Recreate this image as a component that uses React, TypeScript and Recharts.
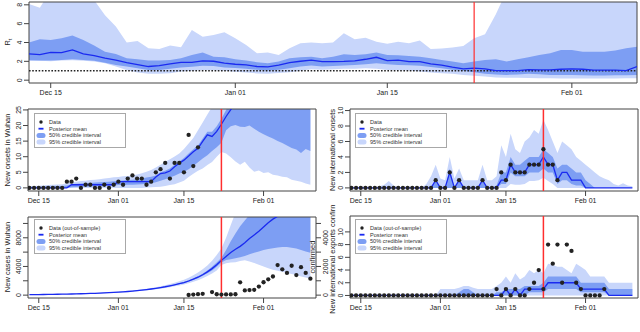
import React from "react"
import {
    ComposedChart,
    Area,
    Line,
    Scatter,
    XAxis,
    YAxis,
    ReferenceLine,
    ReferenceArea,
    Legend,
} from "recharts"

const FONT = '"Liberation Sans", Arial, Helvetica, sans-serif'
const LIGHT = "#c8d6fb"
const DARK = "#7d9ef3"
const MEAN = "#1a2af0"
const RED = "#ff2e2e"
const INK = "#222222"
const FRAME = "#444444"

// day index, 0 = Dec 15
const days = [
    -2, -1, 0, 1, 2, 3, 4, 5, 6, 7, 8, 9, 10, 11, 12, 13, 14, 15, 16, 17, 18, 19, 20,
    21, 22, 23, 24, 25, 26, 27, 28, 29, 30, 31, 32, 33, 34, 35, 36, 37, 38, 39, 40,
    41, 42, 43, 44, 45, 46, 47, 48, 49, 50, 51, 52, 53, 54, 55, 56, 57, 58,
]
const dateTicks = [0, 17, 31, 48]
const dateLabels = ["Dec 15", "Jan 01", "Jan 15", "Feb 01"]
const travelBanDay = 39

const legendData = ["Data", "Posterior mean", "50% credible interval", "95% credible interval"]
const legendOos = ["Data (out-of-sample)", "Posterior mean", "50% credible interval", "95% credible interval"]

// R_t (Dec 13 .. Feb 07)
const rtMean = [
    2.79, 2.72, 2.96, 2.93, 3.21, 2.79, 2.61, 2.33, 2.12, 1.87, 1.66, 1.45, 1.55, 1.73, 1.9,
    1.9, 2.05, 2.01, 1.8, 1.69, 1.62, 1.45, 1.41, 1.59, 1.87, 2.01, 2.12, 1.98, 1.98, 2.0,
    2.05, 2.22, 2.43, 2.08, 2.12, 1.98, 1.98, 1.73, 1.59, 1.38, 1.2, 1.27, 1.2, 1.02, 1.02,
    1.02, 1.13, 1.09, 1.09, 1.16, 1.2, 1.16, 1.06, 1.06, 1.06, 1.02, 1.45,
]
const rt50Hi = [
    3.99, 4.34, 4.27, 4.44, 4.73, 4.27, 3.67, 3.03, 2.79, 2.33, 2.22, 2.08, 2.08, 2.15, 2.33,
    2.68, 2.93, 2.5, 2.43, 2.22, 2.08, 1.9, 1.8, 1.98, 2.33, 2.43, 2.5, 2.33, 2.5, 2.75,
    2.68, 2.75, 2.93, 2.68, 2.65, 2.57, 2.5, 2.33, 2.15, 1.98, 1.8, 1.98, 2.15, 2.22, 1.98,
    2.22, 2.43, 2.68, 2.86, 3.21, 3.21, 3.03, 3.03, 3.03, 3.14, 3.39, 3.56,
]
const rt50Lo = [
    2.12, 2.1, 2.08, 2.15, 2.22, 2.15, 2.05, 1.85, 1.62, 1.45, 1.27, 1.09, 1.09, 1.2, 1.34,
    1.43, 1.52, 1.5, 1.34, 1.3, 1.2, 1.1, 1.02, 1.1, 1.27, 1.45, 1.55, 1.45, 1.5, 1.55,
    1.62, 1.7, 1.8, 1.7, 1.62, 1.58, 1.52, 1.4, 1.27, 1.12, 0.99, 0.85, 0.67, 0.6, 0.56,
    0.6, 0.67, 0.62, 0.56, 0.56, 0.56, 0.52, 0.49, 0.5, 0.52, 0.53, 0.56,
]
const rt95Lo = [
    2.05, 2.05, 2.02, 2.08, 2.12, 2.05, 1.98, 1.8, 1.45, 1.09, 0.81, 0.67, 0.67, 0.74, 0.92,
    1.0, 1.09, 1.05, 0.99, 0.9, 0.81, 0.72, 0.67, 0.75, 0.85, 1.0, 1.16, 1.1, 1.15, 1.2,
    1.22, 1.27, 1.2, 1.09, 1.05, 1.02, 0.92, 0.81, 0.74, 0.67, 0.55, 0.46, 0.38, 0.28, 0.26,
    0.25, 0.23, 0.21, 0.2, 0.18, 0.18, 0.18, 0.18, 0.18, 0.19, 0.21, 0.21,
]
const rt95Hi = [
    8.08, 7.7, 9.5, 9.5, 10.0, 9.5, 8.5, 6.9, 5.7, 4.0, 4.16, 3.39, 3.32, 3.67, 3.49,
    5.33, 4.62, 4.8, 5.08, 4.44, 3.74, 2.86, 2.93, 2.68, 3.39, 3.92, 3.99, 3.92, 3.99, 4.97,
    4.34, 4.51, 4.09, 3.88, 4.09, 3.92, 4.2, 3.32, 3.35, 3.46, 3.63, 4.44, 4.87, 7.0, 9.5,
    10, 10, 10, 10, 10, 10, 10, 10, 10, 10, 10, 10,
]

// new onsets in Wuhan
const wuhanOnsets = [
    0, 0, 0, 0, 0, 0, 0, 0, 2, 2, 3, 0, 1, 1, 0, 0, 1, 0, 1, 2, 1, 3, 4, 3, 3, 1, 2, 5, 6, 8,
    3, 8, 8, 5, 17, 7, 13,
]
const wuhanMean = [
    0, 0, 0, 0, 0, 0, 0, 0, 0, 1, 1, 1, 1, 1, 1, 1, 1, 1, 1, 2, 2, 2, 2, 2, 2, 2, 2,
    3.5, 4.6, 4.8, 5.4, 6.8, 7.9, 8.9, 10.2, 11.6, 12.7, 14.9, 17.0, 16.5, 18.1, 20.4, 22.9,
    25.1, 27, 29, 31, 33, 35, 37, 39, 40, 41, 42, 43, 43, 44, 44, 45, 45, 46,
]
const wuhan95Hi = [
    0.6, 0.6, 0.7, 0.8, 0.9, 1.0, 1.1, 1.2, 1.5, 1.8, 2.0, 2.2, 2.3, 2.5, 2.6, 2.8, 3.0, 3.2,
    3.4, 3.5, 3.7, 3.8, 4.0, 4.3, 4.7, 5.2, 5.7, 6.5, 7.4, 8.4, 9.2, 10.1, 11.0, 12.5, 14.2,
    16.0, 18.5, 21.0, 23.5, 26, 30, 30, 30, 30, 30, 30, 30, 30, 30, 30, 30, 30, 30, 30, 30,
    30, 30, 30, 30, 30, 30,
]
const wuhan95Lo = [
    0, 0, 0, 0, 0, 0, 0, 0, 0, 0, 0, 0, 0, 0, 0, 0, 0, 0, 0, 0, 0, 0, 0, 0, 0,
    0.1, 0.2, 0.3, 0.4, 0.6, 0.9, 1.2, 1.7, 2.3, 3.5, 4.5, 5.5, 6.2, 7.3, 8.3, 10.0, 11.5,
    11.0, 9.8, 8.5, 7.4, 8.4, 6.5, 5.2, 5.6, 4.8, 5.0, 4.2, 4.0, 3.6, 3.4, 2.6, 2.3, 2.0,
    1.4, 1.0,
]
const wuhan50Hi = [
    0.3, 0.3, 0.35, 0.4, 0.45, 0.5, 0.55, 0.6, 0.8, 1.2, 1.3, 1.4, 1.5, 1.6, 1.7, 1.8, 1.9,
    2.0, 2.1, 2.3, 2.4, 2.5, 2.6, 2.8, 3.0, 3.3, 3.6, 4.0, 5.0, 5.5, 6.2, 7.4, 8.5, 9.6,
    11.0, 12.4, 13.6, 15.8, 18.0, 18.0, 19.8, 22.2, 25.0, 27.5, 30, 30, 30, 30, 30, 30, 30,
    30, 30, 30, 30, 30, 30, 30, 30, 30, 30,
]
const wuhan50Lo = [
    0, 0, 0, 0, 0, 0, 0, 0, 0, 0.2, 0.3, 0.35, 0.4, 0.45, 0.5, 0.55, 0.6, 0.7, 0.8, 0.9,
    0.95, 1.0, 1.0, 1.1, 1.2, 1.3, 1.4, 1.8, 2.3, 2.8, 3.3, 3.9, 4.6, 5.2, 6.0, 7.0, 8.2,
    9.4, 10.5, 11.8, 13.0, 14.5, 18.5, 19.8, 20.2, 19.6, 19.5, 20.0, 19.0, 18.0, 17.2, 16.5,
    15.8, 15.0, 14.4, 13.6, 12.8, 12.3, 11.2, 12.5, 11.8,
]

// new international onsets
const intlOnsets = [
    0, 0, 0, 0, 0, 0, 0, 0, 0, 0, 0, 0, 0, 0, 0, 0, 0, 0, 1, 0, 0, 2, 0, 1, 0, 0, 0, 0, 1,
    0, 0, 0, 2, 1, 3, 2, 2, 2, 3, 3, 3, 5, 3, 3, 1,
]
const intlMean = [
    0, 0, 0, 0, 0, 0, 0, 0, 0, 0, 0, 0, 0, 0, 0, 0, 0, 0, 1, 0, 0, 2, 0, 1, 0, 0, 0, 0, 1,
    0, 0, 0, 1, 1, 3, 2, 2, 2, 3, 3, 3, 4, 3, 3, 1, 2, 2, 1, 1, 1, 0, 0, 0, 0, 0, 0, 0, 0,
    0, 0, 0,
]
const intl95Hi = [
    0, 0, 0, 0, 0, 0, 0.2, 0.4, 0.9, 0.3, 0, 0, 0, 0, 0, 0, 0.5, 1.5, 3.0, 1.2, 1.0, 4.0,
    1.2, 2.5, 1.0, 1.0, 1.0, 1.0, 3.0, 1.0, 1.0, 1.5, 5.5, 4.0, 7.0, 5.0, 4.5, 6.0, 6.5,
    7.5, 7.0, 8.8, 7.5, 6.0, 4.5, 6.0, 5.5, 5.0, 4.0, 3.5, 3.0, 2.5, 2.0, 1.5, 1.2, 1.0,
    0.5, 0.3, 0.6, 0.3, 0.2,
]
const intl95Lo = [
    0, 0, 0, 0, 0, 0, 0, 0, 0, 0, 0, 0, 0, 0, 0, 0, 0, 0, 0, 0, 0, 0, 0, 0, 0, 0, 0, 0, 0,
    0, 0, 0, 0, 0, 0.5, 0.4, 0.4, 0.5, 0.9, 0.9, 1.0, 1.3, 0.9, 0.5, 0, 0, 0, 0, 0, 0, 0,
    0, 0, 0, 0, 0, 0, 0, 0, 0, 0,
]
const intl50Hi = [
    0, 0, 0, 0, 0, 0, 0, 0, 0, 0, 0, 0, 0, 0, 0, 0, 0, 0, 1.0, 0, 0, 2.5, 0, 1.0, 0, 0, 0,
    0, 1.0, 0, 0, 0.3, 2.0, 2.0, 4.0, 3.0, 3.0, 3.5, 4.0, 4.0, 4.0, 5.0, 4.5, 4.0, 2.5, 3.0,
    3.0, 2.5, 2.0, 2.0, 1.0, 0.5, 0, 0, 0, 0, 0, 0, 0, 0, 0,
]
const intl50Lo = [
    0, 0, 0, 0, 0, 0, 0, 0, 0, 0, 0, 0, 0, 0, 0, 0, 0, 0, 0, 0, 0, 0, 0, 0, 0, 0, 0, 0, 0,
    0, 0, 0, 0.5, 0.5, 2.0, 1.5, 1.5, 1.5, 2.0, 2.0, 2.0, 2.5, 2.0, 2.0, 0.5, 1.0, 1.0, 0.5,
    0.3, 0.3, 0, 0, 0, 0, 0, 0, 0, 0, 0, 0, 0,
]

// new cases in Wuhan (model) and confirmed cases (out-of-sample, right axis)
const casesMean = [
    68, 75, 82, 90, 99, 109, 120, 132, 146, 160, 176, 194, 213, 234, 258, 283, 312, 343,
    377, 415, 460, 510, 565, 625, 695, 770, 855, 950, 1055, 1170, 1300, 1440, 1590, 1750,
    1970, 2220, 2500, 2850, 3250, 3700, 4250, 4850, 5400, 5950, 6400, 6800, 7300, 7900,
    8400, 8900, 9500, 10100, 10600, 11000, 11400, 11900, 12300, 12600, 13000, 13300, 13600,
]
const cases95Hi = [
    75, 83, 91, 100, 110, 121, 133, 147, 163, 179, 197, 218, 240, 264, 291, 320, 353, 389,
    429, 473, 525, 583, 648, 720, 805, 895, 1000, 1115, 1245, 1390, 1550, 1730, 1930, 2150,
    2440, 2780, 3160, 3620, 4150, 4800, 5600, 6500, 8000, 9800, 11500, 14000, 16000, 18000,
    20000, 22000, 24000, 26000, 28000, 30000, 32000, 34000, 36000, 38000, 40000, 42000, 44000,
]
const cases95Lo = [
    60, 66, 72, 79, 87, 96, 106, 116, 128, 141, 155, 170, 187, 205, 226, 248, 273, 300, 330,
    362, 400, 443, 490, 540, 600, 663, 735, 815, 905, 1000, 1110, 1225, 1350, 1480, 1660,
    1860, 2080, 2360, 2680, 3030, 3450, 4200, 4450, 4550, 4600, 4750, 4850, 4700, 4500,
    4250, 4000, 3750, 3550, 3400, 3250, 3100, 2950, 2800, 2600, 2450, 2300,
]
const cases50Hi = [
    70, 77, 85, 93, 102, 113, 124, 137, 151, 166, 182, 201, 221, 243, 267, 293, 323, 356,
    391, 431, 478, 530, 587, 650, 723, 801, 890, 989, 1098, 1218, 1354, 1500, 1657, 1825,
    2060, 2330, 2630, 3000, 3450, 3950, 4550, 5200, 6300, 7500, 8600, 9600, 10400, 11200,
    12000, 13000, 14000, 15000, 16000, 17000, 18000, 19000, 20000, 21000, 22000, 23000, 24000,
]
const cases50Lo = [
    66, 73, 79, 87, 96, 105, 116, 127, 141, 154, 170, 187, 205, 225, 249, 273, 301, 330,
    363, 399, 442, 490, 543, 600, 667, 739, 820, 911, 1012, 1122, 1246, 1380, 1523, 1675,
    1880, 2110, 2370, 2700, 3050, 3450, 3950, 4550, 4900, 5000, 5150, 5300, 5450, 5700,
    5900, 6100, 6300, 6450, 6550, 6650, 6700, 6700, 6600, 6500, 6300, 6100, 5900,
]
const confirmedDays = [
    32, 33, 34, 35, 37, 38, 39, 40, 41, 42, 43, 44, 45, 46, 47, 48, 49, 50, 51, 52, 53, 54,
    55, 56, 57, 58,
]
const wuhanConfirmed = [
    10, 40, 70, 90, 210, 60, 40, 50, 50, 60, 890, 330, 350, 370, 600, 900, 1100, 1300, 2100,
    1800, 1550, 2050, 1400, 1950, 1550, 1150,
]

// new international exports confirmed
const exportsConfirmed = [
    0, 0, 0, 0, 0, 0, 0, 0, 0, 0, 0, 0, 0, 0, 0, 0, 0, 0, 0, 0, 0, 0, 0, 0, 0, 0, 0, 0, 0,
    0, 0, 1, 0, 1, 0, 1, 0, 0, 1, 2, 4, 1, 8, 5, 8, 2, 8, 7, 2, 1, 0, 0, 0, 0, 1,
]
const exportsMean = [
    0, 0, 0, 0, 0, 0, 0, 0, 0, 0, 0, 0, 0, 0, 0, 0, 0, 0, 0, 0, 0, 0, 0, 0, 0, 0, 0, 0, 0,
    0, 0, 0, 0, 1, 0, 1, 0, 1, 1, 1, 1, 1, 2, 2, 2, 2, 2, 2, 2, 1, 1, 1, 1, 1, 1, 0, 0, 0,
    0, 0, 0,
]
const exports95Hi = [
    0, 0, 0, 0, 0, 0, 0, 0, 0, 0, 0, 0, 0, 0, 0, 0, 0, 0, 0, 1.0, 1.0, 1.0, 1.0, 1.2, 1.5,
    1.5, 1.2, 1.0, 1.0, 1.0, 1.0, 1.5, 2.0, 3.0, 2.0, 3.5, 2.5, 3.0, 4.0, 3.5, 4.0, 3.5,
    5.0, 4.8, 4.5, 4.5, 4.0, 3.5, 5.0, 4.5, 4.0, 3.0, 3.0, 3.0, 3.0, 2.0, 2.0, 2.0, 2.0,
    2.0, 2.0,
]
const exports50Hi = [
    0, 0, 0, 0, 0, 0, 0, 0, 0, 0, 0, 0, 0, 0, 0, 0, 0, 0, 0, 0, 0, 0, 0, 0.5, 1.0, 1.0,
    0.5, 0, 0, 0, 0, 0.5, 0.5, 1.0, 1.0, 1.0, 1.0, 1.5, 1.5, 1.5, 1.5, 2.0, 3.0, 3.0, 3.0,
    3.0, 3.0, 3.0, 3.0, 2.0, 2.0, 2.0, 2.0, 2.0, 2.0, 1.0, 1.0, 1.0, 1.0, 1.0, 1.0,
]
const exports50Lo = [
    0, 0, 0, 0, 0, 0, 0, 0, 0, 0, 0, 0, 0, 0, 0, 0, 0, 0, 0, 0, 0, 0, 0, 0, 0, 0, 0, 0, 0,
    0, 0, 0, 0, 0, 0, 0, 0, 0, 0.5, 0.5, 0.5, 0.5, 1, 1, 1, 1, 1, 1, 1, 0.5, 0.5, 0.5, 0.5,
    0.5, 0.5, 0, 0, 0, 0, 0, 0,
]

const makeRows = (
    mean: number[],
    lo50: number[],
    hi50: number[],
    lo95: number[] | null,
    hi95: number[]
) =>
    mean.map((m, i) => ({
        d: days[i],
        mean: m,
        b50: [lo50[i], hi50[i]],
        b95: [lo95 ? lo95[i] : 0, hi95[i]],
    }))

const makeDots = (vals: number[], dayList: number[] = days) =>
    vals.map((v, i) => ({ d: dayList[i], v }))

const rtRows = makeRows(rtMean, rt50Lo, rt50Hi, rt95Lo, rt95Hi)
const wuhanRows = makeRows(wuhanMean, wuhan50Lo, wuhan50Hi, wuhan95Lo, wuhan95Hi)
const intlRows = makeRows(intlMean, intl50Lo, intl50Hi, intl95Lo, intl95Hi)
const casesRows = makeRows(casesMean, cases50Lo, cases50Hi, cases95Lo, cases95Hi)
const exportsRows = makeRows(exportsMean, exports50Lo, exports50Hi, null, exports95Hi)

const TOP_X: [number, number] = [-2, 54]
const LOW_X: [number, number] = [-2.3, 59.2]

const dateFmt = (v: number) => dateLabels[dateTicks.indexOf(v)] ?? ""

const rotTick = (show: number[] | null, side: "left" | "right") => (p: any) => {
    const v = p.payload?.value
    if (show && !show.includes(v)) return <g />
    const x = side === "left" ? p.x : p.x + 5
    return (
        <text
            x={x}
            y={p.y}
            transform={`rotate(-90 ${x} ${p.y})`}
            textAnchor="middle"
            fontSize={7}
            fontFamily={FONT}
            fill={INK}
        >
            {v}
        </text>
    )
}

const VTitle = ({ tx, ty, text }: any) => (
    <text
        x={tx}
        y={ty}
        transform={`rotate(-90 ${tx} ${ty})`}
        textAnchor="middle"
        fontSize={7.5}
        fontFamily={FONT}
        fill={INK}
    >
        {text}
    </text>
)

const RtTitle = ({ tx, ty }: any) => (
    <text
        x={tx}
        y={ty}
        transform={`rotate(-90 ${tx} ${ty})`}
        textAnchor="middle"
        fontSize={7.5}
        fontFamily={FONT}
        fill={INK}
    >
        R<tspan fontSize={5} dy={1.8}>t</tspan>
    </text>
)

const LegendBox = ({ labels }: { labels: string[] }) => (
    <svg width={92} height={35} style={{ display: "block" }}>
        <rect x={0.5} y={0.5} width={91} height={34} fill="#fff" stroke="#a8a8a8" />
        <circle cx={7} cy={9} r={1.7} fill={INK} />
        <rect x={4.5} y={14.8} width={5} height={1.8} fill={MEAN} />
        <rect x={2.5} y={19.9} width={9} height={5} rx={2.5} fill={DARK} />
        <rect x={2.5} y={26.6} width={9} height={5} rx={2.5} fill={LIGHT} />
        {labels.map((t, i) => (
            <text key={t} x={15} y={11 + i * 6.7} fontSize={5.6} fontFamily={FONT} fill="#333">
                {t}
            </text>
        ))}
    </svg>
)

const xAxisEl = (domain: [number, number], height: number) => (
    <XAxis
        type="number"
        dataKey="d"
        domain={domain}
        allowDataOverflow
        ticks={dateTicks}
        interval={0}
        tickFormatter={dateFmt}
        tickSize={5}
        tickMargin={2}
        axisLine={false}
        tickLine={{ stroke: FRAME }}
        height={height}
        tick={{ fontSize: 7, fill: INK, fontFamily: FONT }}
    />
)

const yAxisEl = (
    domain: [number, number],
    ticks: number[],
    width: number,
    title: React.ReactElement,
    show: number[] | null = null
) => (
    <YAxis
        type="number"
        domain={domain}
        allowDataOverflow
        ticks={ticks}
        interval={0}
        width={width}
        tickSize={5}
        tickMargin={2}
        axisLine={false}
        tickLine={{ stroke: FRAME }}
        tick={rotTick(show, "left")}
        label={title}
    />
)

const bandEls = () => [
    <Area
        key="b95"
        dataKey="b95"
        type="linear"
        stroke="none"
        fill={LIGHT}
        fillOpacity={1}
        activeDot={false}
        isAnimationActive={false}
    />,
    <Area
        key="b50"
        dataKey="b50"
        type="linear"
        stroke="none"
        fill={DARK}
        fillOpacity={1}
        activeDot={false}
        isAnimationActive={false}
    />,
]

const meanEl = () => (
    <Line
        dataKey="mean"
        type="linear"
        stroke={MEAN}
        strokeWidth={1.3}
        dot={false}
        activeDot={false}
        isAnimationActive={false}
    />
)

const redEl = (w: number) => <ReferenceLine x={travelBanDay} stroke={RED} strokeWidth={w} />

const dotShape = (p: any) => <circle cx={p.cx} cy={p.cy} r={2.15} fill={INK} />

const frameEl = (xd: [number, number], yd: [number, number]) => (
    <ReferenceArea x1={xd[0]} x2={xd[1]} y1={yd[0]} y2={yd[1]} fill="none" stroke={FRAME} strokeWidth={1} />
)

const legendEl = (labels: string[], left: number, top: number) => (
    <Legend
        layout="vertical"
        align="center"
        verticalAlign="middle"
        wrapperStyle={{ left, top, width: 92, height: 35 }}
        content={() => <LegendBox labels={labels} />}
    />
)

export default function App() {
    const topY: [number, number] = [-0.3, 8.3]
    const wuhanY: [number, number] = [-1, 25.3]
    const intlY: [number, number] = [-0.4, 10.2]
    const casesY: [number, number] = [-400, 10900]
    const confY: [number, number] = [-200, 5450]
    const expY: [number, number] = [-0.4, 12.5]

    return (
        <div
            style={{
                position: "absolute",
                left: 0,
                top: 0,
                width: 640,
                height: 332,
                background: "#fff",
                overflow: "hidden",
            }}
        >
            <div style={{ position: "absolute", left: 0, top: 0 }}>
                <ComposedChart width={640} height={100} data={rtRows} margin={{ top: 2, right: 3, bottom: 0, left: 0 }}>
                    {xAxisEl(TOP_X, 17)}
                    {yAxisEl(topY, [0, 2, 4, 6, 8], 29, <RtTitle tx={10} ty={42} />)}
                    {bandEls()}
                    <ReferenceLine y={1} stroke={INK} strokeDasharray="1.6 1.6" strokeWidth={1.5} />
                    {meanEl()}
                    {redEl(1.2)}
                    {frameEl(TOP_X, topY)}
                </ComposedChart>
            </div>

            <div style={{ position: "absolute", left: 0, top: 95 }}>
                <ComposedChart width={330} height={115} data={wuhanRows} margin={{ top: 14, right: 14, bottom: 0, left: 0 }}>
                    {xAxisEl(LOW_X, 19)}
                    {yAxisEl(wuhanY, [0, 5, 10, 15, 20, 25], 28, <VTitle tx={10} ty={55} text="New onsets in Wuhan" />)}
                    {bandEls()}
                    {meanEl()}
                    {redEl(1.5)}
                    <Scatter data={makeDots(wuhanOnsets)} dataKey="v" shape={dotShape} isAnimationActive={false} />
                    {frameEl(LOW_X, wuhanY)}
                    {legendEl(legendData, 34, 18)}
                </ComposedChart>
            </div>

            <div style={{ position: "absolute", left: 320, top: 95 }}>
                <ComposedChart width={320} height={115} data={intlRows} margin={{ top: 14, right: 2, bottom: 0, left: 0 }}>
                    {xAxisEl(LOW_X, 19)}
                    {yAxisEl(intlY, [0, 2, 4, 6, 8, 10], 30, <VTitle tx={15} ty={55} text="New international onsets" />)}
                    {bandEls()}
                    {meanEl()}
                    {redEl(1.5)}
                    <Scatter data={makeDots(intlOnsets)} dataKey="v" shape={dotShape} isAnimationActive={false} />
                    {frameEl(LOW_X, intlY)}
                    {legendEl(legendData, 35, 18)}
                </ComposedChart>
            </div>

            <div style={{ position: "absolute", left: 0, top: 205 }}>
                <ComposedChart width={336} height={115} data={casesRows} margin={{ top: 12, right: 0, bottom: 0, left: 0 }}>
                    {xAxisEl(LOW_X, 22)}
                    {yAxisEl(
                        casesY,
                        [0, 2000, 4000, 6000, 8000, 10000],
                        28,
                        <VTitle tx={10} ty={52} text="New cases in Wuhan" />,
                        [0, 4000, 8000]
                    )}
                    <YAxis
                        yAxisId="r"
                        orientation="right"
                        type="number"
                        domain={confY}
                        allowDataOverflow
                        ticks={[0, 1000, 2000, 3000, 4000, 5000]}
                        interval={0}
                        width={20}
                        tickSize={5}
                        tickMargin={2}
                        axisLine={false}
                        tickLine={{ stroke: FRAME }}
                        tick={rotTick([0, 2000, 4000], "right")}
                        label={<VTitle tx={315} ty={52} text="confirmed" />}
                    />
                    {bandEls()}
                    {meanEl()}
                    {redEl(1.5)}
                    <Scatter
                        yAxisId="r"
                        data={makeDots(wuhanConfirmed, confirmedDays)}
                        dataKey="v"
                        shape={dotShape}
                        isAnimationActive={false}
                    />
                    {frameEl(LOW_X, casesY)}
                    {legendEl(legendOos, 34, 13.5)}
                </ComposedChart>
            </div>

            <div style={{ position: "absolute", left: 320, top: 205 }}>
                <ComposedChart width={320} height={115} data={exportsRows} margin={{ top: 11, right: 2, bottom: 0, left: 0 }}>
                    {xAxisEl(LOW_X, 22)}
                    {yAxisEl(
                        expY,
                        [0, 2, 4, 6, 8, 10],
                        30,
                        <VTitle tx={15} ty={49} text="New international exports confirmed" />
                    )}
                    {bandEls()}
                    {meanEl()}
                    {redEl(1.5)}
                    <Scatter data={makeDots(exportsConfirmed)} dataKey="v" shape={dotShape} isAnimationActive={false} />
                    {frameEl(LOW_X, expY)}
                    {legendEl(legendOos, 35, 13.5)}
                </ComposedChart>
            </div>
        </div>
    )
}
